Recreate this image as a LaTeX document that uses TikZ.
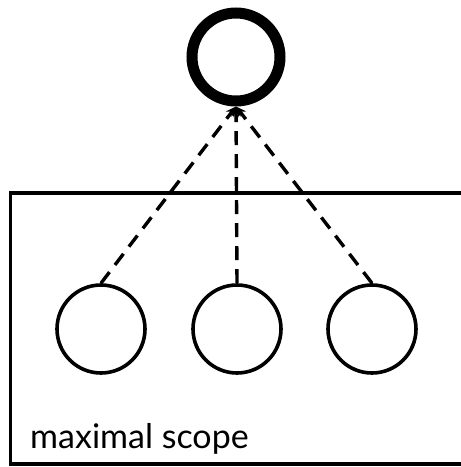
\documentclass[tikz,border=0pt]{standalone}
\usepackage{fontspec}
\setmainfont{Lato}
\usetikzlibrary{arrows.meta}
\begin{document}
\begin{tikzpicture}[x=1pt,y=1pt,
    leaf/.style={circle,draw,line width=3.6pt,minimum size=88pt,inner sep=0pt},
    root/.style={circle,draw,line width=11pt,minimum size=88pt,inner sep=0pt},
    link/.style={line width=3.4pt,dash pattern=on 14pt off 9pt,-{Stealth[length=10pt,width=10pt]}}]
				\useasboundingbox (0,0) rectangle (461,-467);
				
				% draw the scope box
				\draw[line width=3.8pt] (480,-193) -- (10.5,-193) -- (10.5,-464) -- (480,-464);
				\node[anchor=base west,inner sep=0pt,font=\fontsize{34}{40}\selectfont] (scope) at (30,-448) {maximal scope};
				
				% draw the nodes
				\node[root] (top) at (236,-57) {};
				\foreach \n/\x in {a/101,b/237,c/372}
				\node[leaf] (\n) at (\x,-329) {};
				
				% draw the dashed links
				\foreach \n in {a,b,c}
				\draw[link] (\n.north) -- (top.south);
			\end{tikzpicture}
\end{document}
